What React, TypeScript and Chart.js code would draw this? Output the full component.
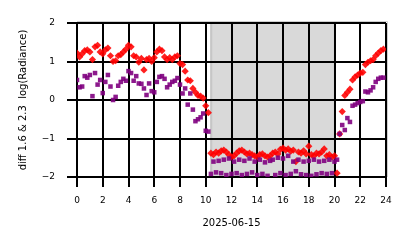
import { useEffect, useRef } from 'react';
import { Chart, registerables } from 'chart.js';

Chart.register(...registerables);

// Hours of the day (UTC) for each sample
const hours = [
  0, 0.2, 0.4, 0.6, 0.8, 1, 1.2, 1.4, 1.6, 1.8, 2, 2.2, 2.4, 2.6, 2.8, 3, 3.2, 3.4, 3.6, 3.8,
  4, 4.2, 4.4, 4.6, 4.8, 5, 5.2, 5.4, 5.6, 5.8, 6, 6.2, 6.4, 6.6, 6.8, 7, 7.2, 7.4, 7.6, 7.8,
  8, 8.2, 8.4, 8.6, 8.8, 9, 9.2, 9.4, 9.6, 9.8, 10, 10.2, 10.4, 10.6, 10.8, 11, 11.2, 11.4, 11.6, 11.8,
  12, 12.2, 12.4, 12.6, 12.8, 13, 13.2, 13.4, 13.6, 13.8, 14, 14.2, 14.4, 14.6, 14.8, 15, 15.2, 15.4, 15.6, 15.8,
  16, 16.2, 16.4, 16.6, 16.8, 17, 17.2, 17.4, 17.6, 17.8, 18, 18.2, 18.4, 18.6, 18.8, 19, 19.2, 19.4, 19.6, 19.8,
  20, 20.2, 20.4, 20.6, 20.8, 21, 21.2, 21.4, 21.6, 21.8, 22, 22.2, 22.4, 22.6, 22.8, 23, 23.2, 23.4, 23.6, 23.8,
];

// red diamonds
const diffRed = [
  1.22, 1.12, 1.2, 1.28, 1.3, 1.25, 1.05, 1.38, 1.42, 1.25,
  1.2, 1.3, 1.35, 1.15, 1.0, 1.02, 1.15, 1.18, 1.25, 1.32,
  1.42, 1.38, 1.15, 1.12, 0.98, 1.08, 0.78, 1.05, 1.08, 1.0,
  1.1, 1.25, 1.32, 1.28, 1.12, 1.05, 1.1, 1.05, 1.12, 1.15,
  0.95, 0.92, 0.75, 0.52, 0.5, 0.3, 0.2, 0.12, 0.1, 0.05,
  -0.15, -0.33,
  -1.38, -1.42, -1.35, -1.38, -1.32, -1.3, -1.35, -1.42, -1.48, -1.45,
  -1.38, -1.32, -1.3, -1.35, -1.4, -1.38, -1.42, -1.45, -1.48, -1.42,
  -1.4, -1.45, -1.48, -1.45, -1.38, -1.35, -1.4, -1.28, -1.25, -1.3,
  -1.27, -1.33, -1.3, -1.6, -1.35, -1.38, -1.32, -1.4, -1.2, -1.42,
  -1.45, -1.38, -1.4, -1.35, -1.27, -1.45, -1.42, -1.48, -1.45,
  -1.9, -0.88, -0.3, 0.12, 0.2, 0.28, 0.52, 0.6, 0.65, 0.7,
  0.72, 0.92, 0.98, 1.02, 1.05, 1.15, 1.22, 1.28, 1.32,
];

// purple squares
const diffPurple = [
  0.52, 0.33, 0.35, 0.62, 0.58, 0.65, 0.1, 0.7, 0.4, 0.52,
  0.18, 0.47, 0.65, 0.35, 0.0, 0.08, 0.37, 0.47, 0.55, 0.5,
  0.75, 0.7, 0.5, 0.62, 0.43, 0.42, 0.3, 0.13, 0.43, 0.23,
  0.2, 0.47, 0.6, 0.62, 0.55, 0.33, 0.4, 0.47, 0.5, 0.57,
  0.4, 0.17, 0.3, -0.12, 0.17, -0.25, -0.55, -0.5, -0.45, -0.35,
  -0.8, -0.82,
  -1.92, -1.6, -1.88, -1.58, -1.9, -1.55, -1.95, -1.52, -1.92, -1.6,
  -1.9, -1.55, -1.95, -1.58, -1.92, -1.52, -1.88, -1.6, -1.95, -1.55,
  -1.92, -1.62, -1.97, -1.58, -1.55, -1.95, -1.5, -1.9, -1.52, -1.95,
  -1.45, -1.92, -1.6, -1.85, -1.55, -1.93, -1.6, -1.95, -1.58, -1.97,
  -1.55, -1.93, -1.6, -1.9, -1.58, -1.92, -1.55, -1.9, -1.6,
  -1.55, -0.88, -0.65, -0.78, -0.47, -0.57, -0.15, -0.12, -0.08, -0.05,
  -0.03, 0.22, 0.2, 0.25, 0.33, 0.47, 0.55, 0.58, 0.58,
];

// shaded (night) interval, hours
const shadeStart = 10.35;
const shadeEnd = 20.1;

const xMin = 0;
const xMax = 24;
const xStep = 2;
const yMin = -2;
const yMax = 2;
const yStep = 1;
const xTitle = '2025-06-15';
const yTitle = 'diff 1.6 & 2.3  log(Radiance)';

const FONT = "'DejaVu Sans', sans-serif";

const shadePlugin = {
  id: 'shadeBand',
  beforeDraw(chart: any) {
    const { ctx, chartArea, scales } = chart;
    const x0 = scales.x.getPixelForValue(shadeStart);
    const x1 = scales.x.getPixelForValue(shadeEnd);
    const { top, bottom, left, right } = chartArea;
    ctx.save();
    ctx.fillStyle = '#d9d9d9';
    ctx.fillRect(x0, top, x1 - x0, bottom - top);
    ctx.strokeStyle = '#c6c6c6';
    ctx.lineWidth = 2;
    ctx.beginPath();
    ctx.moveTo(x0 + 1, top);
    ctx.lineTo(x0 + 1, bottom);
    ctx.moveTo(x1 - 1, top);
    ctx.lineTo(x1 - 1, bottom);
    ctx.stroke();
    ctx.strokeStyle = '#cfcfcf';
    ctx.lineWidth = 1;
    ctx.beginPath();
    ctx.moveTo(left, top - 1.5);
    ctx.lineTo(right + 1.5, top - 1.5);
    ctx.lineTo(right + 1.5, bottom);
    ctx.stroke();
    ctx.restore();
  },
};

export default function App() {
  const ref = useRef<HTMLCanvasElement | null>(null);

  useEffect(() => {
    if (!ref.current) return;
    const red = hours.map((h, i) => ({ x: h, y: diffRed[i] }));
    const purple = hours.map((h, i) => ({ x: h, y: diffPurple[i] }));
    const chart = new Chart(ref.current, {
      type: 'scatter',
      data: {
        datasets: [
          {
            label: 'diff 2.3',
            data: purple,
            order: 1,
            pointStyle: 'rect',
            pointRadius: 3.2,
            pointBorderWidth: 0,
            backgroundColor: 'rgba(128,0,128,0.9)',
            borderColor: 'rgba(128,0,128,0.9)',
          },
          {
            label: 'diff 1.6',
            data: red,
            order: 2,
            pointStyle: 'rectRot',
            pointRadius: 3.6,
            pointBorderWidth: 0,
            backgroundColor: 'rgba(255,0,0,0.88)',
            borderColor: 'rgba(255,0,0,0.88)',
          },
        ],
      },
      options: {
        responsive: false,
        animation: false,
        devicePixelRatio: 1,
        events: [],
        layout: { padding: { top: 23, right: 28, left: 0, bottom: 0 } },
        plugins: { legend: { display: false }, tooltip: { enabled: false } },
        scales: {
          x: {
            type: 'linear',
            min: xMin,
            max: xMax,
            afterFit: (s: any) => {
              s.height = 71;
            },
            ticks: {
              stepSize: xStep,
              color: '#000',
              padding: 8,
              maxRotation: 0,
              font: { family: FONT, size: 9 },
              callback: (v: any) => String(v),
            },
            grid: { color: '#000', lineWidth: 2, tickLength: 10, drawTicks: true },
            border: { display: false },
            title: {
              display: true,
              text: xTitle,
              color: '#000',
              font: { family: FONT, size: 10 },
              padding: { top: 0, bottom: 19 },
            },
          },
          y: {
            type: 'linear',
            min: yMin,
            max: yMax,
            afterFit: (s: any) => {
              s.width = 77;
            },
            ticks: {
              stepSize: yStep,
              color: '#000',
              padding: 12,
              font: { family: FONT, size: 9 },
              callback: (v: any) => (v < 0 ? '\u2212' + Math.abs(v) : String(v)),
            },
            grid: { color: '#000', lineWidth: 2, tickLength: 10, drawTicks: true },
            border: { display: false },
            title: {
              display: true,
              text: yTitle,
              color: '#000',
              font: { family: FONT, size: 10 },
              padding: { top: 17, bottom: 0 },
            },
          },
        },
      },
      plugins: [shadePlugin],
    });
    return () => chart.destroy();
  }, []);

  return (
    <div style={{ position: 'absolute', left: 0, top: 0, width: 414, height: 248, background: '#fff', overflow: 'hidden' }}>
      <canvas ref={ref} width={414} height={248} style={{ display: 'block', width: 414, height: 248 }} />
    </div>
  );
}
